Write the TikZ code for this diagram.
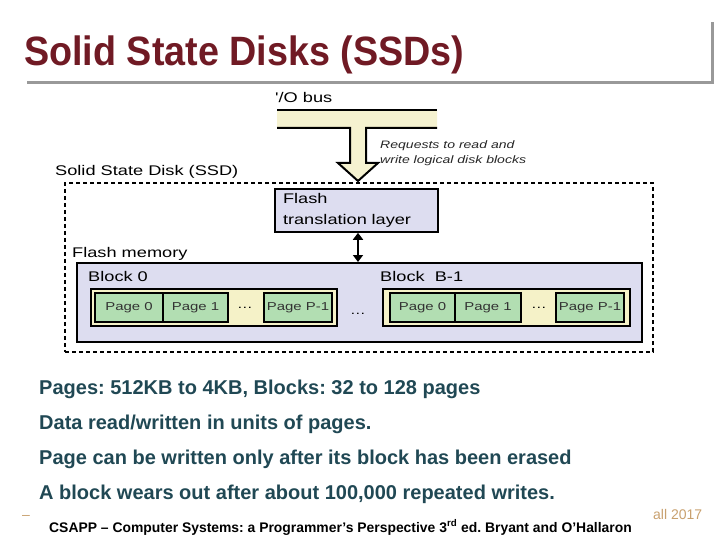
\documentclass[tikz,border=0pt]{standalone}
\usepackage{fontspec}
\setmainfont{Liberation Sans}
\newfontfamily\titlefont{Liberation Sans}[FakeStretch=0.92]
\newfontfamily\diagfont{Liberation Sans}[FakeStretch=1.3]
\usepackage{tikz}
\usetikzlibrary{arrows.meta, positioning}
\usepackage{xcolor}
\definecolor{titlered}{RGB}{112,26,36}
\definecolor{framegray}{RGB}{153,153,153}
\definecolor{buscream}{RGB}{245,242,208}
\definecolor{flashlav}{RGB}{221,221,240}
\definecolor{blockcream}{RGB}{245,242,200}
\definecolor{pagegreen}{RGB}{178,222,178}
\definecolor{bullteal}{RGB}{32,72,84}
\definecolor{foottan}{RGB}{200,160,110}
\frenchspacing

\begin{document}
\begin{tikzpicture}[x=1pt, y=-1pt,
  lbl/.style={anchor=base west, inner sep=0pt,
              font=\diagfont\fontsize{14}{21.5}\selectfont},
  note/.style={anchor=base west, inner sep=0pt, align=left,
               font=\diagfont\itshape\fontsize{10.8}{15.5}\selectfont, text=black!85},
  lavbox/.style={draw=black, fill=flashlav, line width=1.6pt, inner sep=0pt},
  blockbox/.style={draw=black, fill=blockcream, line width=2pt, inner sep=0pt,
                   minimum height=37pt},
  pagebox/.style={draw=black, fill=pagegreen, line width=1.5pt, inner sep=0pt,
                  minimum height=29pt, text=black!80,
                  font=\diagfont\fontsize{11.5}{13}\selectfont},
  dots/.style={inner sep=0pt, font=\diagfont\fontsize{12}{13}\selectfont},
  bullet/.style={anchor=base west, inner sep=0pt, text=bullteal,
                 font=\bfseries\fontsize{20}{24}\selectfont},
  busline/.style={line width=2pt, line join=miter},
  dblarrow/.style={{Triangle[length=7pt,width=10pt]}-{Triangle[length=7pt,width=10pt]},
                   line width=2.6pt}
]
  \useasboundingbox (0,0) rectangle (720,540);

  % title and its frame
  \node[anchor=base west, inner sep=0pt, text=titlered,
        font=\titlefont\bfseries\fontsize{41}{48}\selectfont] (title) at (24,66)
    {Solid State Disks (SSDs)};
  \draw[framegray, line width=3pt] (27,83) -- (712,83) -- (712,22);

  % bus with the request arrow
  \fill[buscream] (277,110) -- (437,110) -- (437,128) -- (366,128) -- (366,163)
    -- (378,163) -- (358,181) -- (338,163) -- (350,163) -- (350,128)
    -- (277,128) -- cycle;
  \draw[busline] (277,110) -- (437,110);
  \draw[busline] (277,128) -- (350,128) -- (350,163) -- (338,163) -- (358,181)
    -- (378,163) -- (366,163) -- (366,128) -- (437,128);
  \node[lbl] (bus) at (275,103) {'/O bus};
  \node[note] (req) at (380,164) {Requests to read and\\write logical disk blocks};

  % the SSD
  \node[draw, dashed, line width=1.5pt, dash pattern=on 4pt off 3pt,
        minimum width=588pt, minimum height=169pt, inner sep=0pt]
    (ssd) at (359,267.5) {};
  \node[lbl] (ssdlbl) at (55,176) {Solid State Disk (SSD)};

  \node[lavbox, text width=147pt, inner xsep=8pt, minimum height=43pt,
        align=left, font=\diagfont\fontsize{14}{21.5}\selectfont]
    (ftl) at (356.5,210.5) {Flash\\translation layer};

  \node[lavbox, line width=2pt, minimum width=565pt, minimum height=79pt]
    (flash) at (359.5,302.5) {};
  \node[lbl] (flashlbl) at (72,258) {Flash memory};
  \draw[dblarrow] (ftl.south -| 358,0) -- (flash.north -| 358,0);

  % block 0
  \node[lbl] (blk0lbl) at (88,281) {Block 0};
  \node[blockbox, minimum width=246pt] (blk0) at (214,307.5) {};
  \node[pagebox, minimum width=68pt] (b0p0) at (129,307.5) {Page 0};
  \node[pagebox, minimum width=65pt] (b0p1) at (195.5,307.5) {Page 1};
  \node[dots] (b0dots) at (245,308) {…};
  \node[pagebox, minimum width=68pt] (b0pl) at (298,307.5) {Page P-1};

  \node[dots] (middots) at (358,314) {…};

  % block B-1
  \node[lbl] (blkBlbl) at (380,281) {Block\ \ B-1};
  \node[blockbox, minimum width=247pt] (blkB) at (506.5,307.5) {};
  \node[pagebox, minimum width=65pt] (bBp0) at (422.5,307.5) {Page 0};
  \node[pagebox, minimum width=66pt] (bBp1) at (488,307.5) {Page 1};
  \node[dots] (bBdots) at (539,308) {…};
  \node[pagebox, minimum width=68pt] (bBpl) at (590,307.5) {Page P-1};

  % points below
  \node[bullet] (pt1) at (39,394) {Pages: 512KB to 4KB, Blocks: 32 to 128 pages};
  \node[bullet] (pt2) at (39,429) {Data read/written in units of pages.};
  \node[bullet] (pt3) at (39,464) {Page can be written only after its block has been erased};
  \node[bullet] (pt4) at (39,499) {A block wears out after about 100,000 repeated writes.};

  % footer
  \node[anchor=base west, inner sep=0pt, text=foottan,
        font=\fontsize{14}{16}\selectfont] (dash) at (22,519) {–};
  \node[anchor=base west, inner sep=0pt, text=foottan,
        font=\fontsize{14}{16}\selectfont] (year) at (653,519) {all 2017};
  \node[anchor=base west, inner sep=0pt, font=\bfseries\fontsize{13.9}{16}\selectfont]
    (foot) at (49,532)
    {CSAPP – Computer Systems: a Programmer’s Perspective 3\textsuperscript{rd} ed. Bryant and O’Hallaron};
\end{tikzpicture}
\end{document}
